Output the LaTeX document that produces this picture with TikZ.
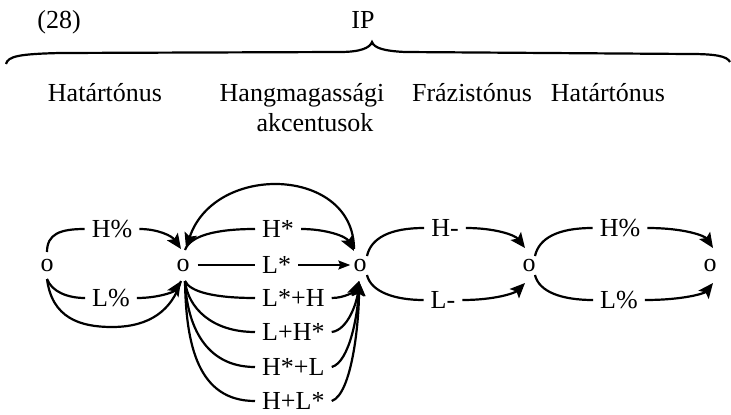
\documentclass[tikz,border=0pt]{standalone}
\usepackage{fontspec}
\setmainfont{Liberation Serif}
\usetikzlibrary{arrows.meta}
\begin{document}
\begin{tikzpicture}[x=1pt,y=-1pt,
  txt/.style={font=\fontsize{26}{30}\selectfont, inner sep=0pt},
  st/.style={font=\fontsize{26}{30}\selectfont, inner sep=0pt},
  lbl/.style={font=\fontsize{26}{30}\selectfont, inner xsep=7pt, inner ysep=0pt},
  con/.style={line width=2.2pt},
  arr/.style={con, -{Stealth[length=15pt,width=13pt,inset=3pt]}},
  sarr/.style={line width=1.8pt, -{Stealth[length=12pt,width=9pt,inset=2pt]}},
]
\useasboundingbox (0,0) rectangle (731,415);

% brace
\draw[con] (6,64) .. controls (8,56) and (20,54) .. (60,53) -- (340,52)
  .. controls (360,52) and (370,48) .. (372,42)
  .. controls (374,48) and (384,51) .. (405,52) -- (690,54)
  .. controls (715,54) and (727,56) .. (730,62);

% headings
\node[txt, anchor=base] (num) at (59,28) {(28)};
\node[txt, anchor=base] (ip) at (363,28) {IP};
\node[txt, anchor=base] (ht1) at (105,101) {Határtónus};
\node[txt, anchor=base] (hm) at (302,101) {Hangmagassági};
\node[txt, anchor=base] (ak) at (315,131) {akcentusok};
\node[txt, anchor=base] (fr) at (472,101) {Frázistónus};
\node[txt, anchor=base] (ht2) at (608,101) {Határtónus};

% states
\node[st] (n0) at (47,265) {o};
\node[st] (n1) at (183,265) {o};
\node[st] (n2) at (360,265) {o};
\node[st] (n3) at (529,265) {o};
\node[st] (n4) at (710,265) {o};

% ports
\coordinate (n0t) at (47,252);
\coordinate (n0b) at (47,279);
\coordinate (n1it) at (181,249);
\coordinate (n1ib) at (181,281);
\coordinate (n1ot) at (185,250);
\coordinate (n1ob) at (185,281);
\coordinate (n1arc) at (186,248);
\coordinate (n2it) at (354,251);
\coordinate (n2ib) at (359,281);
\coordinate (n2arc) at (354,249);
\coordinate (n2ot) at (367,256);
\coordinate (n2ob) at (367,275);
\coordinate (n3it) at (525,248);
\coordinate (n3ib) at (525,283);
\coordinate (n3ot) at (535,256);
\coordinate (n3ob) at (535,275);
\coordinate (n4it) at (713,248);
\coordinate (n4ib) at (713,283);

% labels
\node[lbl] (a1) at (112,229) {H\%};
\node[lbl] (a2) at (111,298) {L\%};
\node[lbl, anchor=west] (b1) at (255,229) {H*};
\node[lbl, anchor=west] (b2) at (255,265) {L*};
\node[lbl, anchor=west] (b3) at (255,298) {L*+H};
\node[lbl, anchor=west] (b4) at (255,332) {L+H*};
\node[lbl, anchor=west] (b5) at (255,367) {H*+L};
\node[lbl, anchor=west] (b6) at (255,401) {H+L*};
\node[lbl] (c1) at (445,228) {H-};
\node[lbl] (c2) at (443,300) {L-};
\node[lbl] (d1) at (620,228) {H\%};
\node[lbl] (d2) at (619,300) {L\%};

% n0 -> n1
\draw[con] (n0t) .. controls (47,234) and (60,229) .. (a1.west);
\draw[arr] (a1.east) .. controls (158,229) and (172,236) .. (n1it);
\draw[con] (n0b) .. controls (52,292) and (68,298) .. (a2.west);
\draw[arr] (a2.east) .. controls (158,298) and (174,292) .. (n1ib);
\draw[con] (n0b) .. controls (52,318) and (80,327) .. (112,327)
  .. controls (150,327) and (172,310) .. (n1ib);

% n1 -> n2
\draw[con] (n1ot) .. controls (190,236) and (215,229) .. (b1.west);
\draw[arr] (b1.east) .. controls (325,229) and (346,236) .. (n2it);
\draw[sarr] (b2.east) -- ([xshift=-3pt]n2.west);
\draw[con, line width=1.8pt] ([xshift=8pt]n1.east) -- (b2.west);
\draw[con] (n1ob) .. controls (190,292) and (215,298) .. (b3.west);
\draw[con] (n1ob) .. controls (188,308) and (212,332) .. (b4.west);
\draw[con] (n1ob) .. controls (187,325) and (205,367) .. (b5.west);
\draw[con] (n1ob) .. controls (186,345) and (198,401) .. (b6.west);
\draw[arr] (b3.east) .. controls (345,298) and (355,291) .. (n2ib);
\draw[arr] (b4.east) .. controls (348,330) and (357,302) .. (n2ib);
\draw[arr] (b5.east) .. controls (350,362) and (358,312) .. (n2ib);
\draw[arr] (b6.east) .. controls (352,394) and (359,322) .. (n2ib);

% big arc n2 -> n1
\draw[arr] (n2arc) .. controls (354,167) and (215,162) .. (n1arc);

% n2 -> n3
\draw[con] (n2ot) .. controls (371,238) and (390,228) .. (c1.west);
\draw[arr] (c1.east) .. controls (495,228) and (515,235) .. (n3it);
\draw[con] (n2ob) .. controls (371,292) and (395,300) .. (c2.west);
\draw[arr] (c2.east) .. controls (495,300) and (515,293) .. (n3ib);

% n3 -> n4
\draw[con] (n3ot) .. controls (539,238) and (558,228) .. (d1.west);
\draw[arr] (d1.east) .. controls (685,228) and (705,236) .. (n4it);
\draw[con] (n3ob) .. controls (539,292) and (562,300) .. (d2.west);
\draw[arr] (d2.east) .. controls (685,300) and (705,293) .. (n4ib);
\end{tikzpicture}
\end{document}
